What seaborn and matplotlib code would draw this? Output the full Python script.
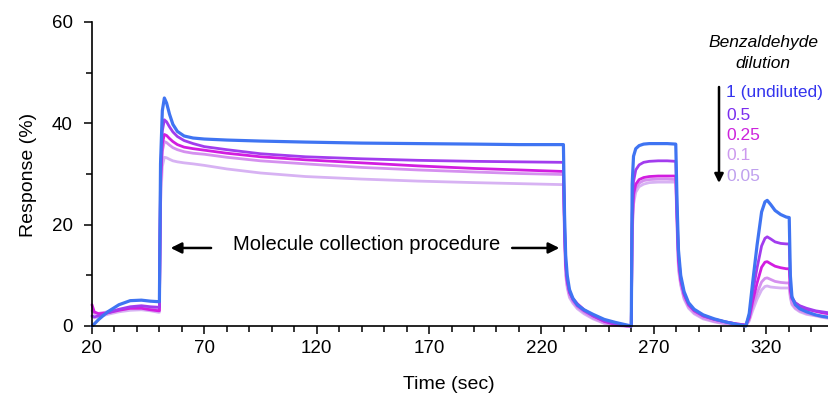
import numpy as np
import pandas as pd
import matplotlib
matplotlib.use("Agg")
import matplotlib.pyplot as plt
import seaborn as sns

# Sensor response traces for several benzaldehyde dilutions
time_s = [
    # baseline
    20, 21, 23, 27, 32, 37, 42, 46, 49.6,
    # exposure step and slow decay
    50.0, 50.5, 51.3, 52.2, 53.2, 54.5, 56, 58, 61, 65, 70, 80, 95, 115, 140, 165, 190, 210, 229.8,
    # purge
    230.3, 230.8, 231.5, 232.5, 234, 236, 239, 243, 248, 253, 258, 260.0,
    # second exposure
    260.4, 261.0, 262, 263.5, 265.5, 268, 272, 276, 279.8,
    # second purge
    280.4, 281.0, 282, 283.5, 285.5, 288, 292, 297, 302, 307, 311,
    # third exposure
    312.5, 314, 316, 318, 319.5, 320.5, 322, 324, 326.5, 329, 330.3,
    # third purge
    330.8, 331.5, 333, 335, 338, 342, 345, 348,
]

resp_1 = [
    0.0, 0.4, 1.3, 2.8, 4.2, 5.0, 5.1, 4.9, 4.8,
    4.8, 32.0, 42.5, 45.0, 44.0, 41.8, 39.8, 38.4, 37.5, 37.1, 36.9, 36.7, 36.5, 36.3, 36.1, 36.0, 35.9, 35.8, 35.8,
    22.0, 14.0, 10.0, 7.2, 5.5, 4.2, 3.2, 2.3, 1.3, 0.7, 0.2, 0.0,
    28.0, 33.5, 35.0, 35.6, 35.9, 36.0, 36.0, 36.0, 35.9,
    24.0, 15.0, 10.0, 6.8, 4.6, 3.3, 2.2, 1.4, 0.8, 0.3, 0.0,
    2.5, 8.5, 16.0, 22.5, 24.5, 24.8, 24.0, 22.8, 22.0, 21.5, 21.4,
    10.0, 5.8, 4.2, 3.4, 2.8, 2.2, 1.9, 1.7,
]

resp_05 = [
    2.0, 1.8, 2.0, 2.6, 3.3, 3.8, 4.0, 3.8, 3.7,
    3.7, 30.0, 38.5, 40.7, 40.3, 39.3, 38.3, 37.4, 36.6, 36.0, 35.4, 34.8, 34.0, 33.4, 33.0, 32.7, 32.5, 32.4, 32.3,
    20.0, 12.5, 9.0, 6.8, 5.2, 4.0, 3.0, 2.0, 1.0, 0.4, 0.1, 0.0,
    22.0, 28.5, 30.8, 31.8, 32.3, 32.5, 32.6, 32.6, 32.5,
    22.0, 14.0, 9.4, 6.4, 4.3, 3.1, 2.0, 1.3, 0.8, 0.4, 0.2,
    2.0, 6.5, 11.5, 15.8, 17.3, 17.6, 17.2, 16.6, 16.3, 16.2, 16.2,
    8.0, 5.6, 4.6, 4.0, 3.5, 3.0, 2.8, 2.6,
]

resp_025 = [
    4.2, 2.8, 2.4, 2.6, 3.1, 3.5, 3.5, 3.2, 3.0,
    3.0, 28.0, 36.0, 37.8, 37.6, 37.0, 36.4, 35.8, 35.3, 35.0, 34.7, 34.1, 33.4, 32.8, 32.2, 31.6, 31.1, 30.8, 30.5,
    19.0, 12.0, 8.8, 6.6, 5.4, 4.4, 3.2, 2.0, 0.9, 0.3, 0.0, 0.0,
    20.0, 26.0, 28.0, 28.9, 29.3, 29.5, 29.6, 29.6, 29.6,
    21.0, 13.0, 9.0, 6.2, 4.2, 3.0, 2.0, 1.3, 0.8, 0.4, 0.2,
    1.6, 4.8, 8.5, 11.6, 12.6, 12.7, 12.3, 11.8, 11.5, 11.3, 11.3,
    7.0, 5.4, 4.5, 3.9, 3.3, 2.9, 2.6, 2.4,
]

resp_01 = [
    3.0, 2.5, 2.5, 2.8, 3.2, 3.5, 3.6, 3.4, 3.2,
    3.2, 27.0, 34.5, 36.4, 36.2, 35.7, 35.2, 34.8, 34.4, 34.1, 33.9, 33.3, 32.6, 32.0, 31.3, 30.8, 30.4, 30.1, 29.9,
    18.0, 11.0, 8.0, 6.0, 4.8, 3.7, 2.7, 1.6, 0.6, 0.1, 0.0, 0.0,
    19.0, 25.0, 27.2, 28.2, 28.7, 28.9, 29.0, 29.0, 28.9,
    20.0, 12.0, 8.4, 5.6, 3.8, 2.6, 1.6, 0.9, 0.5, 0.2, 0.1,
    1.3, 3.8, 6.5, 8.7, 9.4, 9.5, 9.2, 8.8, 8.6, 8.5, 8.5,
    6.0, 4.5, 3.6, 3.0, 2.5, 2.1, 1.9, 1.7,
]

resp_005 = [
    1.8, 1.6, 1.8, 2.3, 2.8, 3.1, 3.2, 3.0, 2.7,
    2.7, 24.0, 31.5, 33.3, 33.2, 32.9, 32.6, 32.4, 32.2, 32.0, 31.7, 31.0, 30.2, 29.5, 29.0, 28.6, 28.3, 28.1, 27.9,
    17.0, 10.0, 7.5, 5.6, 4.5, 3.4, 2.4, 1.4, 0.5, 0.1, 0.0, 0.0,
    18.0, 24.0, 26.4, 27.5, 28.0, 28.3, 28.4, 28.4, 28.4,
    19.0, 11.0, 8.0, 5.3, 3.5, 2.4, 1.4, 0.8, 0.4, 0.1, 0.0,
    1.0, 3.0, 5.3, 7.1, 7.8, 7.9, 7.7, 7.6, 7.5, 7.5, 7.5,
    5.5, 4.2, 3.4, 2.8, 2.3, 2.0, 1.7, 1.5,
]

dilutions = ["1", "0.5", "0.25", "0.1", "0.05"]
legend_labels = ["1 (undiluted)", "0.5", "0.25", "0.1", "0.05"]
line_colors = ["#3F74F2", "#A23CEE", "#D21DE0", "#D590EF", "#D7B2F3"]
text_colors = ["#3434EE", "#7A2CEE", "#CC22DD", "#CC99EE", "#BFA0EE"]
series = [resp_1, resp_05, resp_025, resp_01, resp_005]

df = pd.concat(
    [pd.DataFrame({"Time": time_s, "Response": vals, "Dilution": d})
     for d, vals in zip(dilutions, series)],
    ignore_index=True,
)

sns.set_theme(style="ticks")
plt.rcParams["font.family"] = ["Liberation Sans", "DejaVu Sans"]

W, H = 829, 401
fig = plt.figure(figsize=(W / 100, H / 100), dpi=100)
ax = fig.add_axes([92 / W, (H - 326) / H, (W - 92) / W, 304 / H])

sns.lineplot(
    data=df, x="Time", y="Response", hue="Dilution",
    hue_order=dilutions[::-1], palette=dict(zip(dilutions, line_colors)),
    estimator=None, sort=False, linewidth=2.0, legend=False, ax=ax,
)
for ln in ax.lines:
    ln.set_solid_joinstyle("round")
    ln.set_clip_on(False)
ax.lines[-1].set_linewidth(2.3)

ax.set_xlim(20, 348)
ax.set_ylim(0, 60)
ax.set_xticks(np.arange(20, 349, 50))
ax.set_xticks(np.arange(20, 349, 10), minor=True)
ax.set_yticks([0, 20, 40, 60])
ax.set_yticks([10, 30, 50], minor=True)
ax.tick_params(axis="both", which="major", direction="out", length=6, width=1.1,
               color="black", labelsize=13.5, labelcolor="black", pad=4)
ax.tick_params(axis="both", which="minor", direction="out", length=4.5, width=1.1,
               color="black")
ax.tick_params(axis="y", which="major", pad=8)
sns.despine(ax=ax)
for side in ("left", "bottom"):
    ax.spines[side].set_color("black")
    ax.spines[side].set_linewidth(1.2)

ax.set_xlabel("Time (sec)", fontsize=14, color="black")
ax.set_ylabel("Response (%)", fontsize=14, color="black")
ax.xaxis.set_label_coords((449 - 92) / 737, -0.165)
ax.yaxis.set_label_coords(-0.075, 0.497)

# Collection-window annotation
ax.text(142, 16.0, "Molecule collection procedure", ha="center", va="center",
        fontsize=14.5, color="black")
arrow_kw = dict(arrowstyle="-|>", color="black", lw=1.8, mutation_scale=16,
                shrinkA=0, shrinkB=0)
ax.annotate("", xy=(55.0, 15.4), xytext=(73.0, 15.4), arrowprops=arrow_kw)
ax.annotate("", xy=(228.0, 15.4), xytext=(207.0, 15.4), arrowprops=arrow_kw)

# Dilution key
def fx(px):
    return px / W

def fy(py):
    return 1 - py / H

fig.text(fx(763), fy(43), "Benzaldehyde", ha="center", va="center",
         fontsize=12.5, style="italic", color="black")
fig.text(fx(763), fy(63), "dilution", ha="center", va="center",
         fontsize=12.5, style="italic", color="black")
label_y = [93, 115, 136, 156, 177]
for lab, col, py in zip(legend_labels, text_colors, label_y):
    fig.text(fx(726), fy(py), lab, ha="left", va="center", fontsize=12.5, color=col)
ax.annotate("", xy=(fx(719), fy(183)), xytext=(fx(719), fy(87)),
            xycoords="figure fraction", textcoords="figure fraction",
            arrowprops=dict(arrowstyle="-|>", color="black", lw=1.8,
                            mutation_scale=13, shrinkA=0, shrinkB=0))

fig.savefig("out.png", dpi=100)
